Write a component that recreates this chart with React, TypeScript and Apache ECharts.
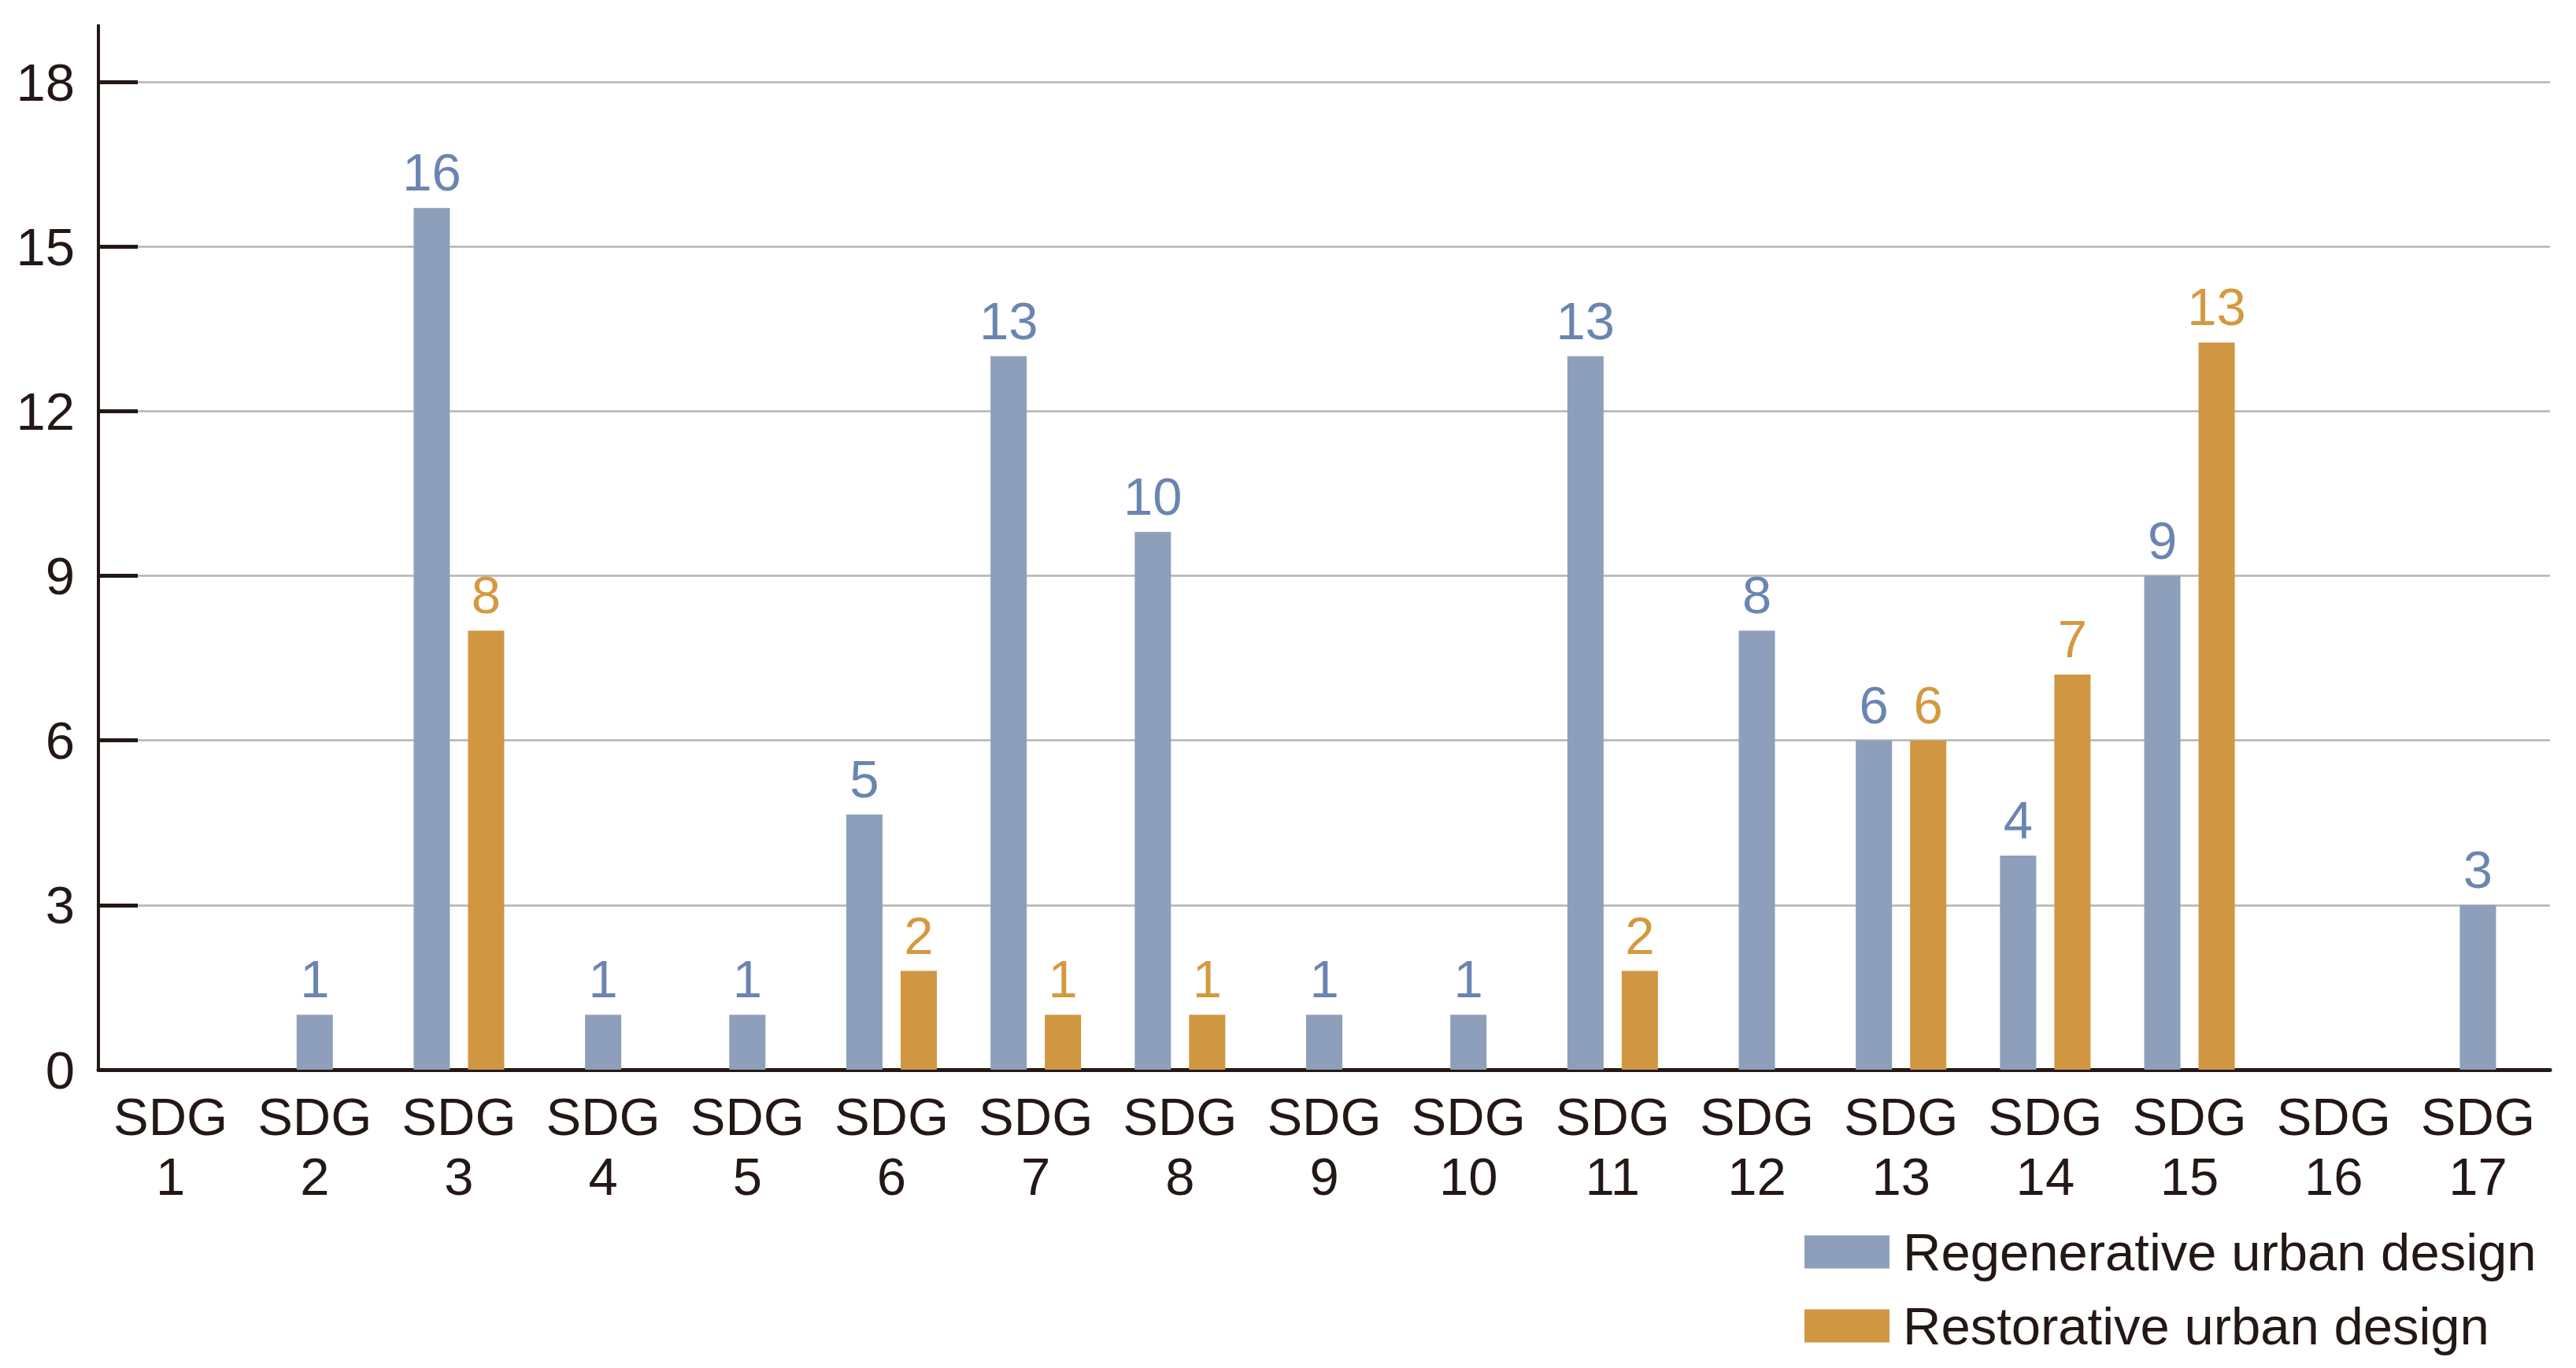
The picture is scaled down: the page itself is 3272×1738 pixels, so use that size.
import { useEffect, useRef } from "react";
import * as echarts from "echarts";

// SDG categories (two-line labels)
const categories = [
  "SDG\n1", "SDG\n2", "SDG\n3", "SDG\n4", "SDG\n5", "SDG\n6", "SDG\n7", "SDG\n8", "SDG\n9",
  "SDG\n10", "SDG\n11", "SDG\n12", "SDG\n13", "SDG\n14", "SDG\n15", "SDG\n16", "SDG\n17",
];

// bar heights as drawn in the picture
const regenHeights = [0, 1, 15.7, 1, 1, 4.65, 13, 9.8, 1, 1, 13, 8, 6, 3.9, 9, 0, 3];
const restHeights = [0, 0, 8, 0, 0, 1.8, 1, 1, 0, 0, 1.8, 0, 6, 7.2, 13.25, 0, 0];

// counts printed above the bars
const regenCounts = [0, 1, 16, 1, 1, 5, 13, 10, 1, 1, 13, 8, 6, 4, 9, 0, 3];
const restCounts = [0, 0, 8, 0, 0, 2, 1, 1, 0, 0, 2, 0, 6, 7, 13, 0, 0];

const seriesNames = ["Regenerative urban design", "Restorative urban design"];
const yTicks = { min: 0, max: 18, interval: 3 };

const BLUE = "#8d9fbb";
const ORANGE = "#d09641";
const BLUE_TXT = "#6b85b2";
const ORANGE_TXT = "#d4993f";
const INK = "#231815";
const FONT = "'Liberation Sans', Arial, sans-serif";
const FS = 67;

export default function App() {
  const chartRef = useRef<HTMLDivElement>(null);

  useEffect(() => {
    document.body.style.margin = "0";
    if (!chartRef.current) return;
    const chart = echarts.init(chartRef.current, null, { renderer: "svg" });

    // paired categories get side-by-side bars, single ones are centred
    const paired = restHeights.map((v) => v > 0);
    const regenPaired = regenHeights.map((v, i) => (paired[i] && v > 0 ? v : null));
    const regenSingle = regenHeights.map((v, i) => (!paired[i] && v > 0 ? v : null));
    const restData = restHeights.map((v) => (v > 0 ? v : null));

    const labelBase = {
      show: true,
      position: "top",
      distance: 12,
      fontSize: FS,
      fontFamily: FONT,
    };

    const legendBase = {
      orient: "vertical",
      left: 2292,
      padding: 0,
      itemWidth: 108,
      itemHeight: 42,
      itemGap: 0,
      icon: "rect",
      textStyle: { fontSize: FS, lineHeight: 66, fontFamily: FONT, color: INK, padding: [0, 0, 0, 12] },
    };

    chart.setOption({
      animation: false,
      backgroundColor: "#fff",
      grid: { left: 125, right: 33, top: 104, bottom: 379, containLabel: false },
      legend: [
        { ...legendBase, top: 1557, data: [seriesNames[0]] },
        { ...legendBase, top: 1651, data: [seriesNames[1]] },
      ],
      xAxis: [
        {
          type: "category",
          data: categories,
          axisLine: { lineStyle: { color: INK, width: 5 } },
          axisTick: { alignWithLabel: true, length: 22, lineStyle: { color: INK, width: 4 } },
          axisLabel: {
            fontSize: FS,
            lineHeight: 76,
            margin: 21,
            color: INK,
            fontFamily: FONT,
            interval: 0,
          },
        },
        { type: "category", data: categories, show: false },
      ],
      yAxis: {
        type: "value",
        min: yTicks.min,
        max: yTicks.max,
        interval: yTicks.interval,
        axisLine: { show: true, lineStyle: { color: INK, width: 4 } },
        axisTick: { show: true, inside: true, length: 50, lineStyle: { color: INK, width: 5 } },
        axisLabel: { fontSize: FS, margin: 30, color: INK, fontFamily: FONT },
        splitLine: { lineStyle: { color: "#b3b3b3", width: 2.5 } },
      },
      graphic: [
        {
          type: "line",
          shape: { x1: 125, y1: 31, x2: 125, y2: 104 },
          style: { stroke: INK, lineWidth: 4 },
        },
      ],
      series: [
        {
          name: seriesNames[0],
          type: "bar",
          xAxisIndex: 0,
          data: regenPaired,
          barWidth: 46,
          barGap: "50%",
          itemStyle: { color: BLUE },
          label: { ...labelBase, color: BLUE_TXT, formatter: (p: any) => String(regenCounts[p.dataIndex]) },
        },
        {
          name: seriesNames[1],
          type: "bar",
          xAxisIndex: 0,
          data: restData,
          barWidth: 46,
          barGap: "50%",
          itemStyle: { color: ORANGE },
          label: { ...labelBase, color: ORANGE_TXT, formatter: (p: any) => String(restCounts[p.dataIndex]) },
        },
        {
          name: seriesNames[0],
          type: "bar",
          xAxisIndex: 1,
          data: regenSingle,
          barWidth: 46,
          itemStyle: { color: BLUE },
          label: { ...labelBase, color: BLUE_TXT, formatter: (p: any) => String(regenCounts[p.dataIndex]) },
        },
      ],
    });

    return () => {
      chart.dispose();
    };
  }, []);

  return <div ref={chartRef} style={{ width: "100vw", height: "100vh" }} />;
}
